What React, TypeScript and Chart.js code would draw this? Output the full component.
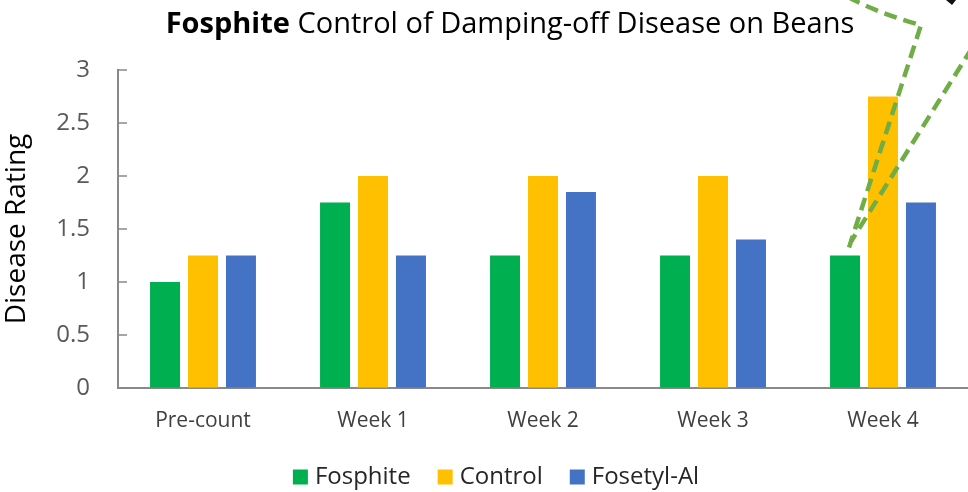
import React, { useEffect, useRef } from 'react';
import { Chart, registerables } from 'chart.js';

Chart.register(...registerables);

const categories = ['Pre-count', 'Week 1', 'Week 2', 'Week 3', 'Week 4'];
const fosphite = [1, 1.75, 1.25, 1.25, 1.25];
const control = [1.25, 2, 2, 2, 2.75];
const fosetylAl = [1.25, 1.25, 1.85, 1.4, 1.75];
const seriesNames = ['Fosphite', 'Control', 'Fosetyl-Al'];
const seriesColors = ['#00B050', '#FFC000', '#4472C4'];
const yTicks = [0, 0.5, 1, 1.5, 2, 2.5, 3];
const titleBold = 'Fosphite';
const titleRest = ' Control of Damping-off Disease on Beans';
const yTitle = 'Disease Rating';

const FONT = '"Open Sans", Lato, sans-serif';
const AXIS_COLOR = '#898989';

const decorPlugin = {
  id: 'decor',
  afterDraw(chart: any) {
    const ctx = chart.ctx as CanvasRenderingContext2D;
    const area = chart.chartArea;
    const ys = chart.scales.y;
    ctx.save();

    // inward tick marks on the value axis
    ctx.strokeStyle = AXIS_COLOR;
    ctx.lineWidth = 1.5;
    yTicks.forEach((v) => {
      const py = ys.getPixelForValue(v);
      ctx.beginPath();
      ctx.moveTo(area.left, py);
      ctx.lineTo(area.left + 9, py);
      ctx.stroke();
    });

    // title (mixed bold / regular)
    const tSize = 29;
    ctx.fillStyle = '#000000';
    ctx.textBaseline = 'alphabetic';
    ctx.textAlign = 'left';
    ctx.font = `bold ${tSize}px ${FONT}`;
    const wb = ctx.measureText(titleBold).width;
    ctx.font = `${tSize}px ${FONT}`;
    const wr = ctx.measureText(titleRest).width;
    const tx = 510 - (wb + wr) / 2;
    ctx.font = `bold ${tSize}px ${FONT}`;
    ctx.fillText(titleBold, tx, 33);
    ctx.font = `${tSize}px ${FONT}`;
    ctx.fillText(titleRest, tx + wb, 33);

    // legend
    const lSize = 24;
    ctx.font = `${lSize}px ${FONT}`;
    const box = 15, gapBoxText = 7, gapItems = 27;
    const widths = seriesNames.map((n) => ctx.measureText(n).width);
    const total = widths.reduce((a, w) => a + box + gapBoxText + w, 0) + gapItems * (seriesNames.length - 1);
    let lx = 496 - total / 2;
    const ly = 477;
    ctx.textBaseline = 'middle';
    seriesNames.forEach((n, i) => {
      ctx.fillStyle = seriesColors[i];
      ctx.fillRect(lx, ly - box / 2, box, box);
      ctx.fillStyle = '#262626';
      ctx.fillText(n, lx + box + gapBoxText, ly);
      lx += box + gapBoxText + widths[i] + gapItems;
    });

    // green dashed callout lines pointing at Week 4 Fosphite bar
    const bar = chart.getDatasetMeta(0).data[4];
    const ax = bar.x + 4;
    const ay = bar.y - 8;
    ctx.strokeStyle = '#70AD47';
    ctx.lineWidth = 4.5;
    ctx.setLineDash([13, 7]);
    ctx.beginPath();
    ctx.moveTo(848, -3);
    ctx.quadraticCurveTo(880, 14, 921, 25);
    ctx.lineTo(ax, ay);
    ctx.stroke();
    ctx.beginPath();
    ctx.moveTo(972, 48);
    ctx.lineTo(ax + 2, ay - 6);
    ctx.stroke();
    ctx.setLineDash([]);

    // small dark arrow tip at the top-right corner
    ctx.fillStyle = '#111111';
    ctx.beginPath();
    ctx.moveTo(946, 0);
    ctx.lineTo(956, 0);
    ctx.lineTo(952, 5);
    ctx.closePath();
    ctx.fill();

    ctx.restore();
  },
};

export default function App() {
  const ref = useRef<HTMLCanvasElement | null>(null);

  useEffect(() => {
    if (!ref.current) return;
    const chart = new Chart(ref.current, {
      type: 'bar',
      data: {
        labels: categories,
        datasets: [fosphite, control, fosetylAl].map((d, i) => ({
          label: seriesNames[i],
          data: d,
          backgroundColor: seriesColors[i],
          borderWidth: 0,
          categoryPercentage: 0.67,
          barPercentage: 0.79,
        })),
      },
      options: {
        responsive: false,
        animation: false,
        devicePixelRatio: 1,
        layout: { padding: { top: 70, left: 0, right: 0, bottom: 0 } },
        plugins: {
          legend: { display: false },
          title: { display: false },
          tooltip: { enabled: false },
        },
        scales: {
          x: {
            afterFit: (s: any) => {
              s.height = 104;
            },
            grid: { display: true, drawOnChartArea: false, drawTicks: false },
            border: { display: true, color: AXIS_COLOR, width: 2 },
            ticks: {
              color: '#404040',
              font: { family: FONT, size: 21 },
              padding: 20,
            },
          },
          y: {
            min: 0,
            max: 3,
            afterFit: (s: any) => {
              s.width = 118;
            },
            afterBuildTicks: (s: any) => {
              s.ticks = yTicks.map((v) => ({ value: v }));
            },
            grid: { display: true, drawOnChartArea: false, drawTicks: false },
            border: { display: true, color: AXIS_COLOR, width: 2 },
            ticks: {
              color: '#595959',
              font: { family: FONT, size: 24 },
              padding: 28,
              callback: (v: any) => String(v),
            },
            title: {
              display: true,
              text: yTitle,
              color: '#000000',
              font: { family: FONT, size: 28 },
              padding: { top: 0, bottom: 0 },
            },
          },
        },
      },
      plugins: [decorPlugin],
    });
    return () => chart.destroy();
  }, []);

  return (
    <div style={{ position: 'absolute', left: 0, top: 0, width: 968, height: 492, background: '#ffffff' }}>
      <canvas ref={ref} width={968} height={492} style={{ display: 'block' }} />
    </div>
  );
}
